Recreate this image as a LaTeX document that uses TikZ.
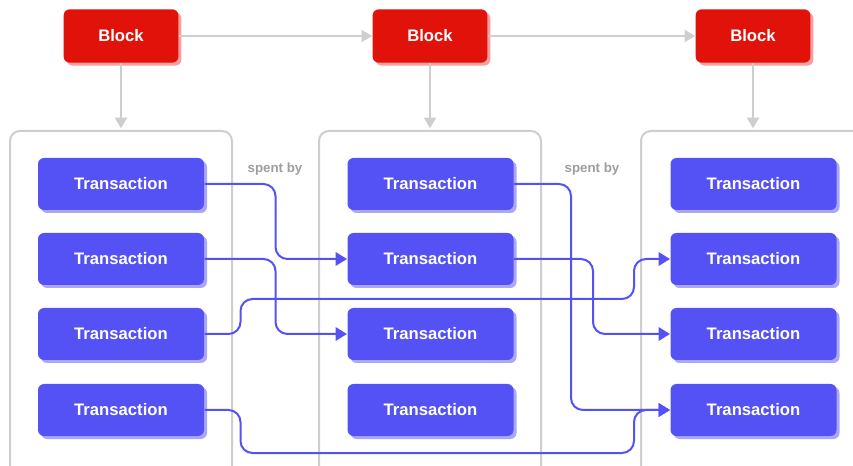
\documentclass[tikz,border=0pt]{standalone}
\usepackage{fontspec}
\setmainfont{Liberation Sans}
\usetikzlibrary{arrows.meta,shadows,calc}

\definecolor{blockred}{RGB}{224,18,10}
\definecolor{blockshade}{RGB}{245,160,158}
\definecolor{txblue}{RGB}{84,82,244}
\definecolor{txshade}{RGB}{170,168,246}
\definecolor{poolgray}{RGB}{206,206,206}
\definecolor{labelgray}{RGB}{158,158,158}

\tikzset{every picture/.style={line width=0.75pt}}
\tikzset{
  block/.style={fill=blockred, rounded corners=4.5pt, minimum width=86pt, minimum height=40pt,
    text=white, font=\fontsize{12.5}{15}\selectfont\bfseries,
    drop shadow={shadow xshift=2.25pt, shadow yshift=-2.25pt, fill=blockshade, opacity=1}},
  tx/.style={fill=txblue, rounded corners=4.5pt, minimum width=124.5pt, minimum height=39pt,
    text=white, font=\fontsize{12.5}{15}\selectfont\bfseries,
    drop shadow={shadow xshift=2.25pt, shadow yshift=-2.25pt, fill=txshade, opacity=1}},
  pool/.style={draw=poolgray, line width=1.5pt, rounded corners=7.5pt, minimum width=166.5pt,
    minimum height=270pt, anchor=north west, inner sep=0pt, outer sep=0pt},
  chain/.style={draw=poolgray, line width=1.5pt, -{Triangle[length=8pt,width=9pt]}},
  spend/.style={draw=txblue, line width=1.5pt, rounded corners=9pt, -{Triangle[length=8.5pt,width=10pt]}},
  note/.style={text=labelgray, font=\fontsize{10}{12}\selectfont\bfseries}
}

\begin{document}
\begin{tikzpicture}[x=0.75pt,y=0.75pt,yscale=-1,xscale=1]
\useasboundingbox (0,0) rectangle (853,466);

% pools of transactions
\node[pool] (pool1) at (10,131) {};
\node[pool] (pool2) at (319,131) {};
\node[pool] (pool3) at (641,131) {};

% blocks
\node[block] (b1) at (121,36) {Block};
\node[block] (b2) at (430,36) {Block};
\node[block] (b3) at (753,36) {Block};

% transactions
\foreach \x/\c in {121/1,430.5/2,753.5/3}{
  \foreach \y/\r in {184/1,259/2,334/3,410/4}{
    \node[tx] (t\c\r) at (\x,\y) {Transaction};
  }
}

% labels
\node[note] (note1) at (275,169) {spent by};
\node[note] (note2) at (592,169) {spent by};

% chain
\draw[chain] (b1.east) -- (b2.west);
\draw[chain] (b2.east) -- (b3.west);
\draw[chain, shorten >=2pt] (b1.south) -- (b1.south |- pool1.north);
\draw[chain, shorten >=2pt] (b2.south) -- (b2.south |- pool2.north);
\draw[chain, shorten >=2pt] (b3.south) -- (b3.south |- pool3.north);

% spent by
\draw[spend] (t11.east) -- ++(71,0) |- (t22.west);
\draw[spend] (t12.east) -- ++(71,0) |- (t23.west);
\draw[spend] (t13.east) -- ++(36,0) |- ($(t32.west)+(-36,40)$) |- (t32.west);
\draw[spend] (t14.east) -- ++(36,0) |- ($(t34.west)+(-36,43)$) |- (t34.west);
\draw[spend] (t21.east) -- ++(57,0) |- (t34.west);
\draw[spend] (t22.east) -- ++(79,0) |- (t33.west);

\end{tikzpicture}
\end{document}
